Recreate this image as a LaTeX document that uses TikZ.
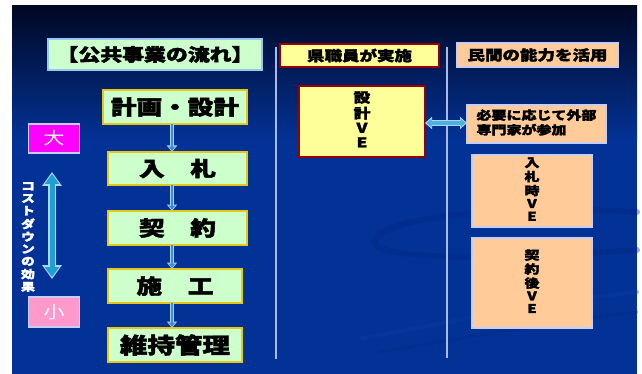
\documentclass[tikz,border=0pt]{standalone}
\usepackage{fontspec}
\newfontfamily\jp[BoldFeatures={FakeBold=2}]{Noto Sans CJK JP}
\usetikzlibrary{arrows.meta,calc}
\definecolor{bgblue}{RGB}{3,50,150}
\definecolor{bgtop}{RGB}{0,8,35}
\definecolor{lgreen}{RGB}{204,255,204}
\definecolor{goldedge}{RGB}{230,200,20}
\definecolor{lyellow}{RGB}{255,255,153}
\definecolor{darkredge}{RGB}{150,0,0}
\definecolor{peach}{RGB}{255,204,153}
\definecolor{lavedge}{RGB}{200,205,245}
\definecolor{titleedge}{RGB}{150,200,240}
\definecolor{magbox}{RGB}{255,0,255}
\definecolor{pinkbox}{RGB}{255,153,204}
\definecolor{vlinecol}{RGB}{170,185,235}
\definecolor{arrowblue}{RGB}{60,140,215}
\definecolor{arrowedge}{RGB}{175,212,245}
\definecolor{costblue}{RGB}{30,160,210}
\definecolor{swdark}{RGB}{0,40,130}
\definecolor{swlight}{RGB}{12,60,165}
\newcommand\hstr[1]{\scalebox{1.25}[1]{#1}}
\newcommand\vtext[1]{\hstr{\begin{tabular}{@{}c@{}}#1\end{tabular}}}
\newcommand\ltext[1]{\hstr{\begin{tabular}{@{}l@{}}#1\end{tabular}}}
\tikzset{
  basebox/.style={inner sep=0pt, outer sep=0pt, align=center},
  flowbox/.style={basebox, draw=goldedge, line width=1.5pt, fill=lgreen,
    font=\jp\bfseries\fontsize{20.5}{22}\selectfont},
  titlebox/.style={basebox, draw=titleedge, line width=1.5pt, fill=lgreen,
    font=\jp\bfseries\fontsize{17.5}{19}\selectfont},
  staffbox/.style={basebox, draw=darkredge, line width=1.3pt, fill=lyellow,
    font=\jp\bfseries\fontsize{14}{15}\selectfont},
  privbox/.style={basebox, draw=lavedge, line width=1.2pt, fill=peach,
    font=\jp\bfseries\fontsize{14}{15}\selectfont},
  sizebox/.style={basebox, draw=lavedge, line width=1.2pt, text=white,
    font=\jp\fontsize{17}{18}\selectfont, minimum width=51pt},
  sepline/.style={draw=vlinecol, line width=1.8pt},
  downouter/.style={draw=arrowedge, line width=4.5pt, -{Triangle[width=10pt,length=6.5pt]}},
  downinner/.style={draw=arrowblue, line width=2.2pt, shorten >=1.2pt, -{Triangle[width=6.5pt,length=4.2pt]}},
  costouter/.style={draw=arrowedge, line width=8pt, {Triangle[width=19pt,length=14pt]}-{Triangle[width=19pt,length=14pt]}},
  costinner/.style={draw=costblue, line width=5pt, shorten >=2pt, shorten <=2pt, {Triangle[width=14pt,length=10pt]}-{Triangle[width=14pt,length=10pt]}},
  harrouter/.style={draw=arrowedge, line width=6pt, {Triangle[width=12pt,length=7pt]}-{Triangle[width=12pt,length=7pt]}},
  harrinner/.style={draw=costblue!80!white, line width=3.4pt, shorten >=1.5pt, shorten <=1.5pt, {Triangle[width=8.5pt,length=5pt]}-{Triangle[width=8.5pt,length=5pt]}}
}
\begin{document}
\begin{tikzpicture}[x=1pt,y=-1pt]
\useasboundingbox (0,0) rectangle (642,374);
\fill[white] (0,0) rectangle (642,374);
% background
\fill[bgblue] (12,6) rectangle (637,374);
\shade[top color=bgtop, bottom color=bgblue] (12,6) rectangle (637,140);
% faint swoosh
\draw[swdark, line width=6pt, opacity=0.4, line cap=round]
  (637,212) .. controls (520,205) and (385,215) .. (375,240)
  .. controls (368,258) and (470,262) .. (637,250);
\draw[swlight, line width=4pt, opacity=0.35, line cap=round]
  (362,338) .. controls (450,322) and (560,300) .. (637,292);
\draw[swdark, line width=3pt, opacity=0.3, line cap=round]
  (380,352) .. controls (480,335) and (580,318) .. (637,312);

% separators
\coordinate (s1t) at (276,47); \coordinate (s1b) at (276,359);
\coordinate (s2t) at (447,47); \coordinate (s2b) at (447,358);
\draw[sepline] (s1t) -- (s1b);
\draw[sepline] (s2t) -- (s2b);

% headers
\node[titlebox, minimum width=214pt, minimum height=31pt] (title) at (155,54.5) {\hstr{【公共事業の流れ】}};
\node[staffbox, minimum width=159pt, minimum height=23pt] (staff) at (359.5,55.5) {\hstr{県職員が実施}};
\node[privbox, minimum width=161pt, minimum height=24pt] (priv) at (537.5,55) {\hstr{民間の能力を活用}};

% flow
\node[flowbox, minimum width=144pt, minimum height=34pt] (plan) at (175,107) {\hstr{計画・設計}};
\node[flowbox, minimum width=139pt, minimum height=33pt] (bid) at (177.5,168.5) {\hstr{入　札}};
\node[flowbox, minimum width=139pt, minimum height=34pt] (cont) at (177.5,228) {\hstr{契　約}};
\node[flowbox, minimum width=134pt, minimum height=34pt] (cons) at (175,286) {\hstr{施　工}};
\node[flowbox, minimum width=134pt, minimum height=34pt, font=\jp\bfseries\fontsize{22}{23}\selectfont] (maint) at (175,345) {\hstr{維持管理}};

\coordinate (ax) at (172,0);
\foreach \a/\b in {plan/bid, bid/cont, cont/cons, cons/maint}{
  \draw[downouter] (\a.south -| ax) -- (\b.north -| ax);
  \draw[downinner] (\a.south -| ax) -- (\b.north -| ax);
}

% cost scale
\node[sizebox, fill=magbox, minimum height=29pt] (big) at (54,138.5) {\hstr{大}};
\node[sizebox, fill=pinkbox, minimum height=30pt] (small) at (54,312) {\hstr{小}};
\coordinate (ct) at (52,172); \coordinate (cb) at (52,279);
\draw[costouter] (ct) -- (cb);
\draw[costinner] (ct) -- (cb);
\node[basebox, text=white, font=\jp\bfseries\fontsize{11}{12.2}\selectfont] (costlbl) at (28,238)
  {\vtext{コ\\ス\\ト\\ダ\\ウ\\ン\\の\\効\\果}};

% staff VE
\node[staffbox, minimum width=126pt, minimum height=71pt, line width=1.5pt,
  font=\jp\bfseries\fontsize{13.5}{14.5}\selectfont] (sve) at (362,121.5) {\vtext{設\\計\\V\\E}};
\node[privbox, minimum width=139pt, minimum height=38pt,
  font=\jp\bfseries\fontsize{12}{14}\selectfont] (need) at (536.5,124) {\ltext{必要に応じて外部\\専門家が参加}};
\coordinate (hy) at (0,123);
\draw[harrouter] (sve.east |- hy) -- (need.west |- hy);
\draw[harrinner] (sve.east |- hy) -- (need.west |- hy);

\node[privbox, minimum width=120pt, minimum height=72pt,
  font=\jp\bfseries\fontsize{12}{12.8}\selectfont] (bve) at (532,191) {\vtext{入\\札\\時\\V\\E}};
\node[privbox, minimum width=120pt, minimum height=90pt,
  font=\jp\bfseries\fontsize{12}{12.4}\selectfont] (cve) at (532,283) {\vtext{契\\約\\後\\V\\E}};
\end{tikzpicture}
\end{document}
